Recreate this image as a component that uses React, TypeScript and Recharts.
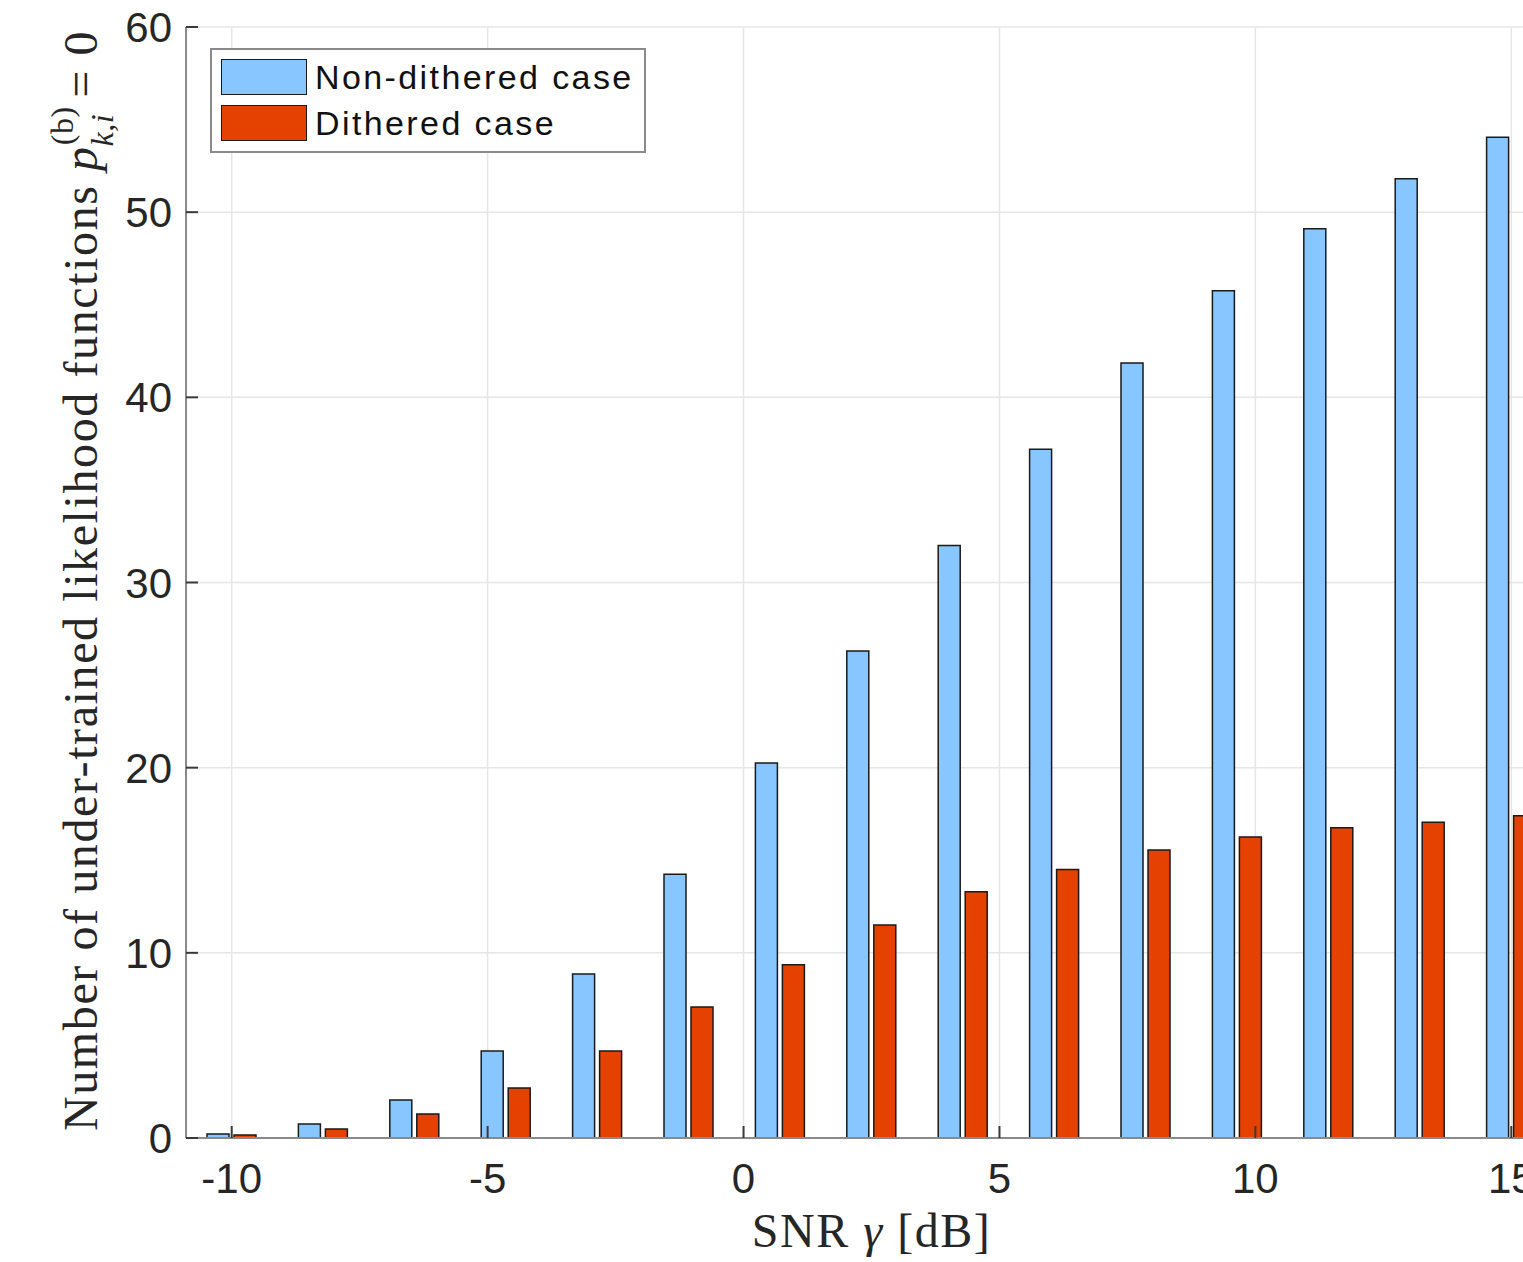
import React from 'react';
import { BarChart, Bar, XAxis, YAxis, CartesianGrid, Legend } from 'recharts';

// SNR grid used in the simulation (15 points from -10 to 15 dB)
const snrValues = [-10, -8.214, -6.429, -4.643, -2.857, -1.071, 0.714, 2.5, 4.286, 6.071, 7.857, 9.643, 11.429, 13.214, 15];
const nonDithered = [0.22, 0.76, 2.05, 4.7, 8.86, 14.25, 20.25, 26.3, 32.0, 37.2, 41.85, 45.75, 49.1, 51.8, 54.05];
const dithered = [0.16, 0.49, 1.3, 2.7, 4.7, 7.07, 9.35, 11.5, 13.3, 14.5, 15.55, 16.25, 16.75, 17.05, 17.4];
const xTicks = [-10, -5, 0, 5, 10, 15];
const yTicks = [0, 10, 20, 30, 40, 50, 60];
const seriesNames = ['Non-dithered case', 'Dithered case'];

const BLUE = '#88c6ff';
const RED = '#e54100';
const AXIS = '#8a8a8a';
const TICK = '#3a3a3a';
const TEXT = '#262626';
const SANS = '"Liberation Sans", Arial, Helvetica, sans-serif';
const SERIF = '"Liberation Serif", "DejaVu Serif", serif';

const data = snrValues.map((snr, i) => ({
    snr,
    nonDithered: nonDithered[i],
    dithered: dithered[i],
}));

// half a bar slot of padding on each side, like MATLAB's bar()
const pad = (snrValues[snrValues.length - 1] - snrValues[0]) / (snrValues.length - 1) / 2;
const xDomain = [snrValues[0] - pad, snrValues[snrValues.length - 1] + pad];

const BottomTick = (props: any) => {
    const { x, y, payload } = props;
    return (
        <g>
            <line x1={x} y1={y} x2={x} y2={y - 12} stroke={TICK} strokeWidth={2} />
            <text x={x} y={y + 55} textAnchor="middle" fontFamily={SANS} fontSize={42} fill={TEXT}>
                {payload.value}
            </text>
        </g>
    );
};

const TopTick = (props: any) => {
    const { x, y } = props;
    return <line x1={x} y1={y} x2={x} y2={y + 12} stroke={TICK} strokeWidth={2} />;
};

const LeftTick = (props: any) => {
    const { x, y, payload } = props;
    return (
        <g>
            <line x1={x} y1={y} x2={x + 12} y2={y} stroke={TICK} strokeWidth={2} />
            <text x={x - 14} y={y} dy="0.36em" textAnchor="end" fontFamily={SANS} fontSize={42} fill={TEXT}>
                {payload.value}
            </text>
        </g>
    );
};

const XLabel = (props: any) => {
    const vb = props.viewBox;
    return (
        <text x={vb.x + vb.width / 2} y={1247} textAnchor="middle" fontFamily={SERIF} fontSize={48} letterSpacing={1.5} fill={TEXT}>
            SNR <tspan fontStyle="italic">γ</tspan> [dB]
        </text>
    );
};

const YLabel = (props: any) => {
    const vb = props.viewBox;
    const cx = 97;
    const cy = vb.y + vb.height / 2 - 2;
    return (
        <text
            x={cx}
            y={cy}
            transform={`rotate(-90, ${cx}, ${cy})`}
            textAnchor="middle"
            fontFamily={SERIF}
            fontSize={48}
            letterSpacing={1.6}
            fill={TEXT}
        >
            Number of under-trained likelihood functions{' '}
            <tspan fontStyle="italic">p</tspan>
            <tspan fontSize={32} dy={-24} letterSpacing={0.5}>(b)</tspan>
            <tspan fontSize={32} fontStyle="italic" dx={-40} dy={40} letterSpacing={0.5}>k,i</tspan>
            <tspan dx={16} dy={-16}>= 0</tspan>
        </text>
    );
};

const LegendBox = () => (
    <div
        style={{
            width: 432,
            height: 101,
            border: `2px solid ${AXIS}`,
            background: '#fff',
            position: 'relative',
            fontFamily: SANS,
        }}
    >
        {[BLUE, RED].map((c, i) => (
            <div key={i} style={{ position: 'absolute', left: 9, top: 9 + i * 46, display: 'flex', alignItems: 'center' }}>
                <div style={{ width: 84, height: 34, background: c, border: '1.5px solid #1a1a1a' }} />
                <span style={{ marginLeft: 8, fontSize: 34, letterSpacing: 2.4, color: '#111', lineHeight: '36px' }}>
                    {seriesNames[i]}
                </span>
            </div>
        ))}
    </div>
);

export default function App() {
    return (
        <div style={{ position: 'absolute', left: 0, top: 0, width: 1523, height: 1262, overflow: 'hidden', background: '#fff' }}>
            <BarChart
                width={1600}
                height={1262}
                data={data}
                margin={{ top: 27, right: 43, left: 100, bottom: 64 }}
                barGap={5}
                barSize={22}
            >
                <CartesianGrid xAxisId="num" stroke="#e6e6e6" strokeWidth={1.5} />
                <XAxis xAxisId="cat" dataKey="snr" type="category" orientation="top" height={0} hide />
                <XAxis
                    xAxisId="num"
                    dataKey="snr"
                    type="number"
                    domain={xDomain}
                    ticks={xTicks}
                    allowDataOverflow
                    height={60}
                    tickSize={0}
                    tickMargin={0}
                    axisLine={{ stroke: AXIS, strokeWidth: 2 }}
                    tickLine={false}
                    tick={<BottomTick />}
                    label={<XLabel />}
                />
                <XAxis
                    xAxisId="top"
                    dataKey="snr"
                    orientation="top"
                    type="number"
                    domain={xDomain}
                    ticks={xTicks}
                    allowDataOverflow
                    height={0}
                    tickSize={0}
                    tickMargin={0}
                    axisLine={{ stroke: AXIS, strokeWidth: 2 }}
                    tickLine={false}
                    tick={<TopTick />}
                />
                <YAxis
                    domain={[0, 60]}
                    ticks={yTicks}
                    width={86}
                    tickSize={0}
                    tickMargin={0}
                    axisLine={{ stroke: AXIS, strokeWidth: 2 }}
                    tickLine={false}
                    tick={<LeftTick />}
                    label={<YLabel />}
                />
                <Legend
                    layout="horizontal"
                    verticalAlign="middle"
                    align="center"
                    content={<LegendBox />}
                    wrapperStyle={{ position: 'absolute', left: 210, top: 48, width: 436, height: 105 }}
                />
                <Bar xAxisId="cat" dataKey="nonDithered" name={seriesNames[0]} fill={BLUE} stroke="#1a1a1a" strokeWidth={1.5} isAnimationActive={false} />
                <Bar xAxisId="cat" dataKey="dithered" name={seriesNames[1]} fill={RED} stroke="#1a1a1a" strokeWidth={1.5} isAnimationActive={false} />
            </BarChart>
        </div>
    );
}
